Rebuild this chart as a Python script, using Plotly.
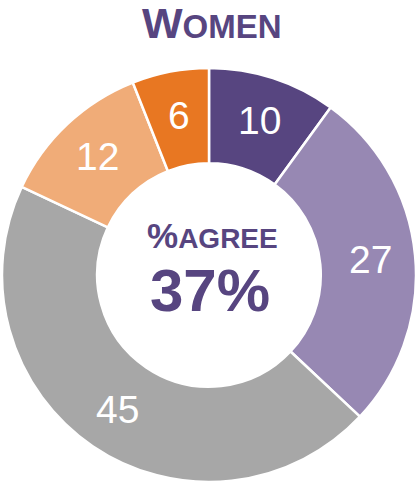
import math
import plotly.graph_objects as go

# Share of responses by answer group (clockwise from 12 o'clock)
categories = ["Strongly agree", "Agree", "Neutral", "Disagree", "Strongly disagree"]
values = [10, 27, 45, 12, 6]
colors = ["#574580", "#9788b3", "#a7a7a7", "#f0ac78", "#e87722"]

title_text = "<b>W<span style='font-size:33px'>OMEN</span></b>"
center_label = "<b><span style='font-size:35px'>%</span>AGREE</b>"
center_value = "<b>37%</b>"

W, H = 418, 485
cx_px, cy_px, r_px = 209, 275, 207
hole = 0.54
font = "Liberation Sans, Arial, sans-serif"

fig = go.Figure(
    go.Pie(
        labels=categories,
        values=values,
        sort=False,
        direction="clockwise",
        rotation=0,
        hole=hole,
        marker=dict(colors=colors, line=dict(color="white", width=2.5)),
        textinfo="none",
        showlegend=False,
        hoverinfo="label+value",
        domain=dict(
            x=[0, 1],
            y=[(H - cy_px - r_px) / H, (H - cy_px + r_px) / H],
        ),
    )
)

# Value labels at the middle of each ring segment
total = sum(values)
label_r = r_px * (1 + hole) / 2 + 3
cum = 0
for v in values:
    ang = 2 * math.pi * (cum + v / 2) / total
    cum += v
    px = cx_px + label_r * math.sin(ang)
    py = cy_px - label_r * math.cos(ang)
    fig.add_annotation(
        text=str(v), x=px / W, y=1 - py / H, xref="paper", yref="paper",
        showarrow=False, xanchor="center", yanchor="middle",
        font=dict(family=font, size=39, color="white"),
    )

purple = "#574580"
fig.add_annotation(
    text=title_text, x=212 / W, y=1 - 23 / H, xref="paper", yref="paper",
    showarrow=False, xanchor="center", yanchor="middle",
    font=dict(family=font, size=43, color=purple),
)
fig.add_annotation(
    text=center_label, x=212 / W, y=1 - 235 / H, xref="paper", yref="paper",
    showarrow=False, xanchor="center", yanchor="middle",
    font=dict(family=font, size=28, color=purple),
)
fig.add_annotation(
    text=center_value, x=210 / W, y=1 - 290 / H, xref="paper", yref="paper",
    showarrow=False, xanchor="center", yanchor="middle",
    font=dict(family=font, size=60, color=purple),
)

fig.update_layout(
    width=W, height=H,
    margin=dict(l=0, r=0, t=0, b=0),
    paper_bgcolor="white", plot_bgcolor="white",
)

fig.write_html("out.html")
